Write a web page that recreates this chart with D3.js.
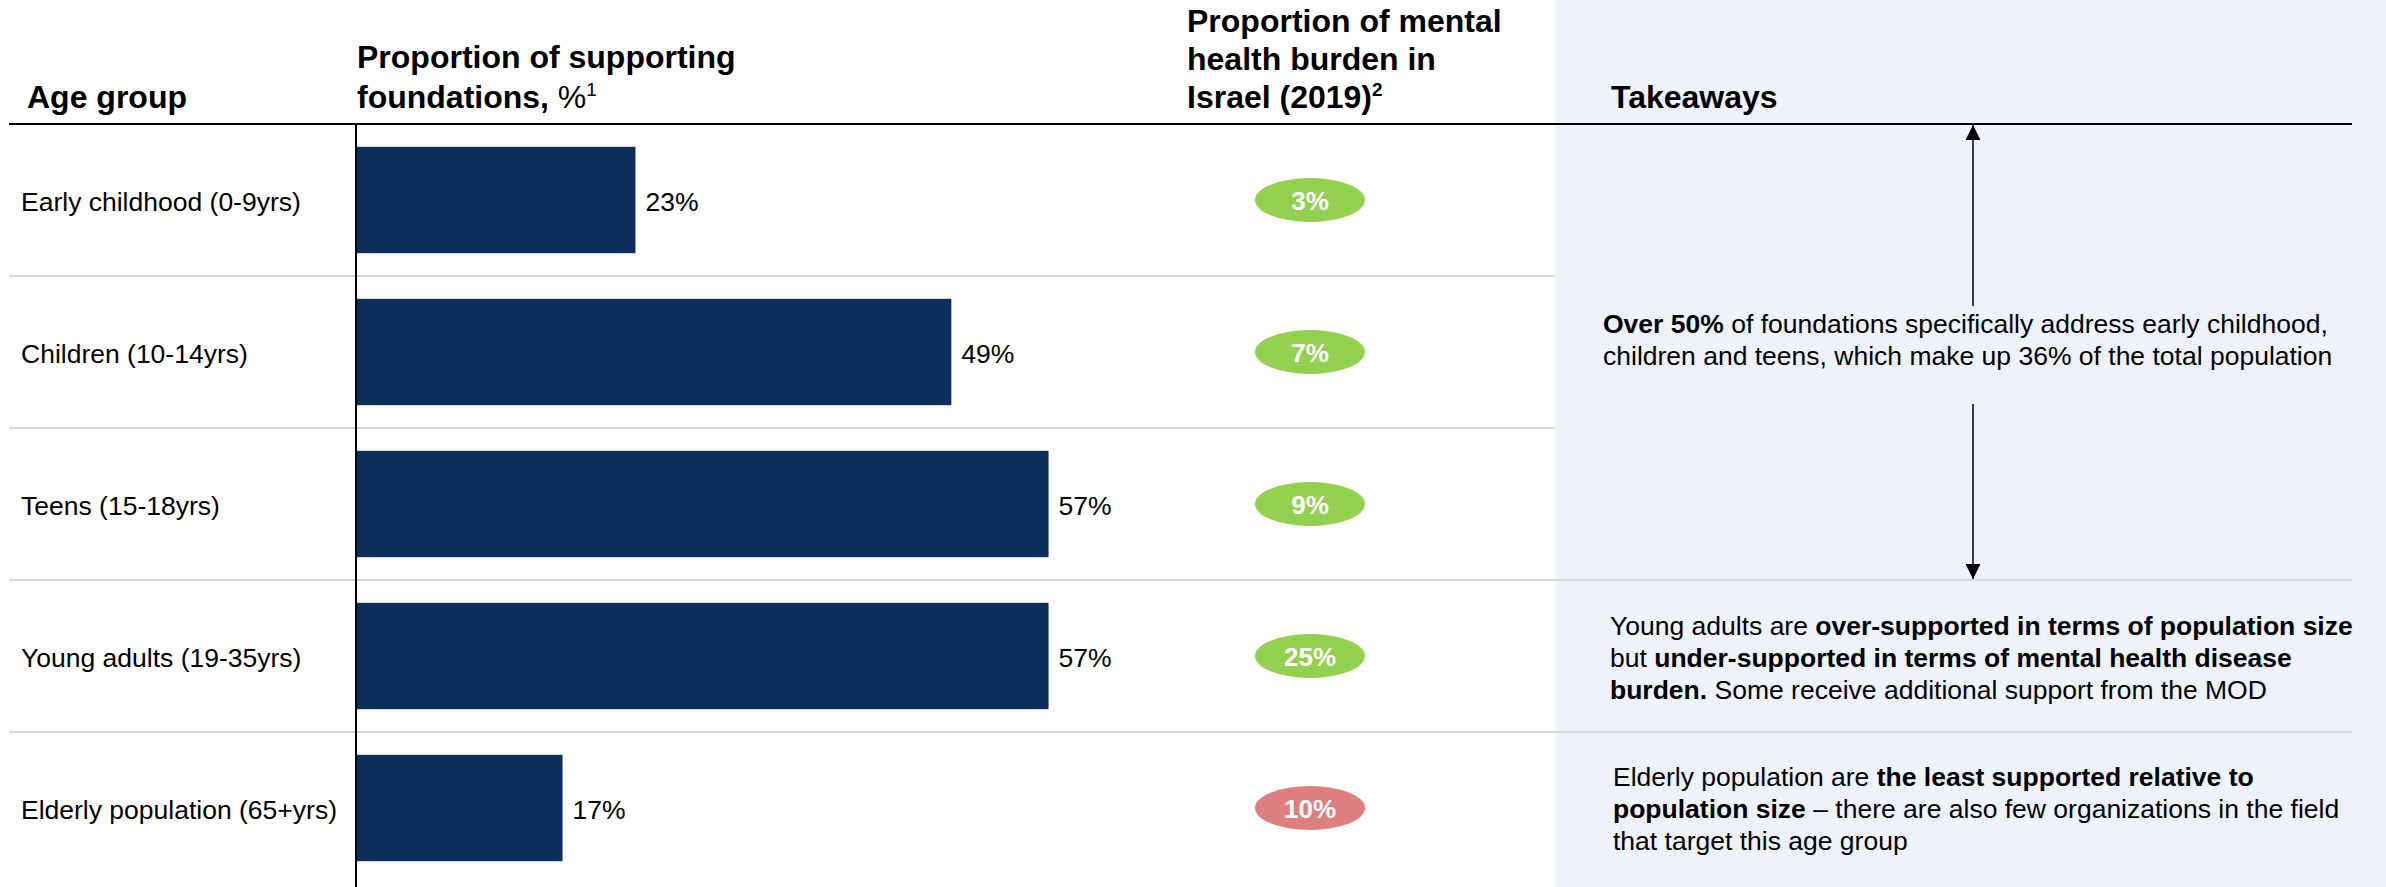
<!DOCTYPE html>
<html>
<head>
<meta charset="utf-8">
<script src="https://cdn.jsdelivr.net/npm/d3@7"></script>
<style>
  html, body { margin: 0; padding: 0; background: #fff; }
  svg { display: block; font-family: "Liberation Sans", Arial, sans-serif; }
</style>
</head>
<body>
<svg class="main" width="2386" height="887"></svg>
<script>
const ageGroups = [
  "Early childhood (0-9yrs)",
  "Children (10-14yrs)",
  "Teens (15-18yrs)",
  "Young adults (19-35yrs)",
  "Elderly population (65+yrs)"
];
const foundationShare = [23, 49, 57, 57, 17];
const burdenShare = [3, 7, 9, 25, 10];
const burdenFlag = ["ok", "ok", "ok", "ok", "low"];

const takeaways = [
  [
    [["Over 50%", true], [" of foundations specifically address early childhood,", false]],
    [["children and teens, which make up 36% of the total population", false]]
  ],
  [
    [["Young adults are ", false], ["over-supported in terms of population size", true]],
    [["but ", false], ["under-supported in terms of mental health disease", true]],
    [["burden.", true], [" Some receive additional support from the MOD", false]]
  ],
  [
    [["Elderly population are ", false], ["the least supported relative to", true]],
    [["population size", true], [" \u2013 there are also few organizations in the field", false]],
    [["that target this age group", false]]
  ]
];

(function () {
  'use strict';

  const W = 2386, H = 887;
  const headerY = 124;
  const axisX = 356;
  const panelX = 1555;
  const ovalX = 1310;

  const svg = d3.select("svg.main");

  const x = d3.scaleLinear().domain([0, 100]).range([axisX, axisX + 1215]);
  const y = d3.scaleBand()
    .domain(ageGroups)
    .range([headerY, headerY + 760])
    .paddingInner(0.3)
    .paddingOuter(0.15);
  const step = y.step();
  const rowTop = i => headerY + step * i;

  const ovalColor = d3.scaleOrdinal().domain(["ok", "low"]).range(["#92d050", "#de7f7f"]);

  // takeaways panel
  svg.append("rect")
    .attr("x", panelX).attr("y", 0)
    .attr("width", W - panelX).attr("height", H)
    .attr("fill", "#eef2fb");

  // row dividers (the first two stop at the panel)
  d3.range(1, ageGroups.length).forEach(i => {
    svg.append("line")
      .attr("x1", 9)
      .attr("x2", i >= 3 ? 2352 : panelX)
      .attr("y1", rowTop(i)).attr("y2", rowTop(i))
      .attr("stroke", "#d9d9d9")
      .attr("stroke-width", 2);
  });

  // headers
  const head = svg.append("g").attr("font-weight", "bold").attr("font-size", 32).attr("fill", "#000");
  head.append("text").attr("x", 27).attr("y", 108).text("Age group");

  const h1 = head.append("text").attr("x", axisX + 1);
  h1.append("tspan").attr("x", axisX + 1).attr("y", 68).text("Proportion of supporting");
  h1.append("tspan").attr("x", axisX + 1).attr("y", 108).text("foundations, ");
  h1.append("tspan").attr("font-weight", "normal").text("%");
  h1.append("tspan").attr("font-weight", "normal").attr("font-size", 19).attr("dy", -12).text("1");

  const h2 = head.append("text");
  ["Proportion of mental", "health burden in"].forEach((s, i) => {
    h2.append("tspan").attr("x", 1187).attr("y", 32 + i * 38).text(s);
  });
  h2.append("tspan").attr("x", 1187).attr("y", 108).text("Israel (2019)");
  h2.append("tspan").attr("font-size", 19).attr("dy", -12).text("2");

  head.append("text").attr("x", 1611).attr("y", 108).text("Takeaways");

  svg.append("line")
    .attr("x1", 9).attr("x2", 2352)
    .attr("y1", headerY).attr("y2", headerY)
    .attr("stroke", "#000").attr("stroke-width", 2);

  // row labels
  svg.append("g").selectAll("text")
    .data(ageGroups)
    .join("text")
    .attr("x", 21)
    .attr("y", d => y(d) + y.bandwidth() / 2)
    .attr("dy", "0.42em")
    .attr("font-size", 26.5)
    .text(d => d);

  // bars
  svg.append("g").selectAll("rect")
    .data(foundationShare)
    .join("rect")
    .attr("x", x(0))
    .attr("y", (d, i) => y(ageGroups[i]))
    .attr("width", d => x(d) - x(0))
    .attr("height", y.bandwidth())
    .attr("fill", "#0f2d5b");

  svg.append("g").selectAll("text")
    .data(foundationShare)
    .join("text")
    .attr("x", d => x(d) + 10)
    .attr("y", (d, i) => y(ageGroups[i]) + y.bandwidth() / 2)
    .attr("dy", "0.42em")
    .attr("font-size", 26.5)
    .text(d => d + "%");

  svg.append("line")
    .attr("x1", axisX).attr("x2", axisX)
    .attr("y1", headerY).attr("y2", H)
    .attr("stroke", "#000").attr("stroke-width", 2);

  // burden ovals
  const ovals = svg.append("g").selectAll("g")
    .data(burdenShare)
    .join("g")
    .attr("transform", (d, i) => `translate(${ovalX}, ${y(ageGroups[i]) + y.bandwidth() / 2})`);
  ovals.append("ellipse")
    .attr("rx", 55).attr("ry", 22)
    .attr("fill", (d, i) => ovalColor(burdenFlag[i]));
  ovals.append("text")
    .attr("text-anchor", "middle")
    .attr("dy", "0.4em")
    .attr("font-size", 26)
    .attr("font-weight", "bold")
    .attr("fill", "#fff")
    .text(d => d + "%");

  // double arrow over the first three rows, broken around the text
  const arrowX = 1973;
  const defs = svg.append("defs");
  defs.append("marker")
    .attr("id", "head")
    .attr("viewBox", "0 0 10 10")
    .attr("refX", 10).attr("refY", 5)
    .attr("markerUnits", "userSpaceOnUse")
    .attr("markerWidth", 15).attr("markerHeight", 15)
    .attr("orient", "auto")
    .append("path")
    .attr("d", "M0,0L10,5L0,10Z")
    .attr("fill", "#000");

  svg.append("line")
    .attr("x1", arrowX).attr("x2", arrowX)
    .attr("y1", 306).attr("y2", headerY + 1)
    .attr("stroke", "#000").attr("stroke-width", 1.5)
    .attr("marker-end", "url(#head)");
  svg.append("line")
    .attr("x1", arrowX).attr("x2", arrowX)
    .attr("y1", 404).attr("y2", rowTop(3) - 1)
    .attr("stroke", "#000").attr("stroke-width", 1.5)
    .attr("marker-end", "url(#head)");

  // takeaway texts
  const noteX = [1603, 1610, 1613];
  const noteMid = [340, 658, 809];
  const lineH = 31.7;
  takeaways.forEach((lines, k) => {
    const t = svg.append("text").attr("font-size", 26.5).attr("fill", "#000");
    lines.forEach((parts, j) => {
      const by = noteMid[k] + (j - (lines.length - 1) / 2) * lineH + 9;
      parts.forEach((p, m) => {
        const ts = t.append("tspan")
          .attr("font-weight", p[1] ? "bold" : "normal")
          .text(p[0]);
        if (m === 0) ts.attr("x", noteX[k]).attr("y", by);
      });
    });
  });
}());
</script>
</body>
</html>
